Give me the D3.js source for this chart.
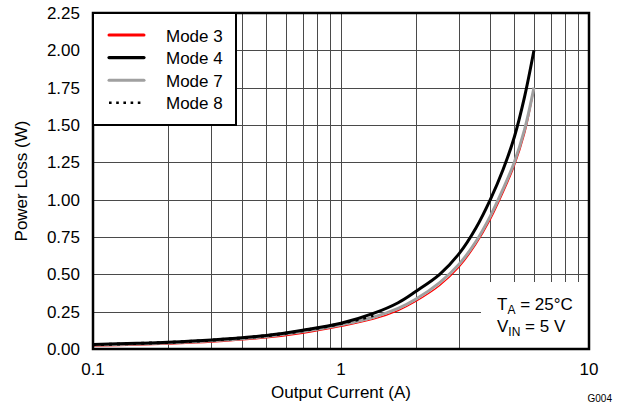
<!DOCTYPE html>
<html><head><meta charset="utf-8">
<script src="https://cdn.jsdelivr.net/npm/d3@7"></script>
<style>
body{margin:0;background:#fff;}
text{font-family:"Liberation Sans",Arial,sans-serif;fill:#000;}
</style></head>
<body><svg id="c" width="621" height="406"></svg>
<script>
const currents = [0.1,0.15,0.2,0.3,0.5,0.7,1,1.35,1.7,2,2.5,3,3.5,4,4.5,5,5.5,6];
const mode3 = [0.019,0.026,0.033,0.046,0.074,0.105,0.151,0.199,0.257,0.318,0.425,0.55,0.70,0.865,1.045,1.225,1.44,1.74];
const mode4 = [0.03,0.038,0.045,0.06,0.09,0.125,0.172,0.238,0.31,0.385,0.50,0.64,0.81,1.0,1.20,1.42,1.69,2.0];
const mode7 = [0.026,0.034,0.041,0.055,0.084,0.117,0.163,0.213,0.272,0.333,0.445,0.57,0.72,0.89,1.07,1.25,1.47,1.75];
const currents8 = [0.1,0.15,0.2,0.3,0.5,0.7,1,1.35];
const mode8 = [0.029,0.037,0.044,0.059,0.089,0.122,0.17,0.224];
const yTicks = [0,0.25,0.5,0.75,1,1.25,1.5,1.75,2,2.25];
const xTickLabels = [0.1,1,10];
const legendNames = ["Mode 3","Mode 4","Mode 7","Mode 8"];

const svg = d3.select("#c");
const L=93,R=589,T=13,B=349;
const x = d3.scaleLog().domain([0.1,10]).range([L,R]);
const y = d3.scaleLinear().domain([0,2.25]).range([B,T]);

// grid
const minor = [];
[0.1,1].forEach(d=>{for(let k=1;k<=9;k++) minor.push(d*k);});
minor.push(10);
const g = svg.append("g").attr("shape-rendering","crispEdges");
g.selectAll("line.v").data(minor).join("line")
 .attr("x1",d=>Math.round(x(d))+0.5).attr("x2",d=>Math.round(x(d))+0.5)
 .attr("y1",T).attr("y2",B).attr("stroke","#4a4a4a").attr("stroke-width",1);
g.selectAll("line.h").data(yTicks).join("line")
 .attr("y1",d=>Math.round(y(d))+0.5).attr("y2",d=>Math.round(y(d))+0.5)
 .attr("x1",L).attr("x2",R).attr("stroke","#4a4a4a").attr("stroke-width",1);

// annotation white box
svg.append("rect").attr("x",481).attr("y",282).attr("width",R-481).attr("height",B-282).attr("fill","#fff");

// curves
const line = (xs)=>d3.line().x((d,i)=>x(xs[i])).y(d=>y(d)).curve(d3.curveCatmullRom.alpha(0.5));
svg.append("path").datum(mode3).attr("d",line(currents)).attr("fill","none").attr("stroke","#ff0000").attr("stroke-width",1.2);
svg.append("path").datum(mode7).attr("d",line(currents)).attr("fill","none").attr("stroke","#a0a0a0").attr("stroke-width",3);
svg.append("path").datum(mode4).attr("d",line(currents)).attr("fill","none").attr("stroke","#000").attr("stroke-width",3);
svg.append("path").datum(mode8).attr("d",line(currents8)).attr("fill","none").attr("stroke","#000").attr("stroke-width",3).attr("stroke-dasharray","3,5");

// frame
svg.append("rect").attr("x",L).attr("y",T).attr("width",R-L).attr("height",B-T).attr("fill","none").attr("stroke","#000").attr("stroke-width",2.5);

// legend
svg.append("rect").attr("x",L).attr("y",T).attr("width",236-L).attr("height",125-T).attr("fill","#fff").attr("stroke","#000").attr("stroke-width",2);
const legStyles = [
 {c:"#ff0000",w:3,da:null,cap:"round"},{c:"#000",w:3.2,da:null,cap:"round"},{c:"#a0a0a0",w:3,da:null,cap:"round"},{c:"#000",w:2.6,da:"2.6,4.6",cap:"butt"}];
const lg = svg.append("g");
legendNames.forEach((n,i)=>{
  const yy = 35 + i*22.6;
  lg.append("line").attr("x1",109).attr("x2",144).attr("y1",yy).attr("y2",yy)
   .attr("stroke",legStyles[i].c).attr("stroke-width",legStyles[i].w)
   .attr("stroke-linecap",legStyles[i].cap).attr("stroke-dasharray",legStyles[i].da);
  lg.append("text").attr("x",166).attr("y",yy+6.5).attr("font-size",17).text(n);
});

// y tick labels
svg.selectAll("text.yt").data(yTicks).join("text")
 .attr("x",80).attr("y",d=>y(d)+6).attr("text-anchor","end").attr("font-size",17)
 .text(d=>d3.format(".2f")(d));
// x tick labels
svg.selectAll("text.xt").data(xTickLabels).join("text")
 .attr("x",d=>x(d)).attr("y",375).attr("text-anchor","middle").attr("font-size",17)
 .text(d=>String(d));

// axis titles
svg.append("text").attr("x",(L+R)/2).attr("y",398).attr("text-anchor","middle").attr("font-size",17).text("Output Current (A)");
svg.append("text").attr("transform",`translate(27,${(T+B)/2}) rotate(-90)`).attr("text-anchor","middle").attr("font-size",17).text("Power Loss (W)");

// annotation
const a1 = svg.append("text").attr("x",497).attr("y",310).attr("font-size",17);
a1.append("tspan").text("T");
a1.append("tspan").attr("font-size",12).attr("dy",4).text("A");
a1.append("tspan").attr("dy",-4).text(" = 25°C");
const a2 = svg.append("text").attr("x",497).attr("y",332).attr("font-size",17);
a2.append("tspan").text("V");
a2.append("tspan").attr("font-size",12).attr("dy",4).text("IN");
a2.append("tspan").attr("dy",-4).text(" = 5 V");

svg.append("text").attr("x",612).attr("y",402).attr("text-anchor","end").attr("font-size",10).text("G004");
</script></body></html>
